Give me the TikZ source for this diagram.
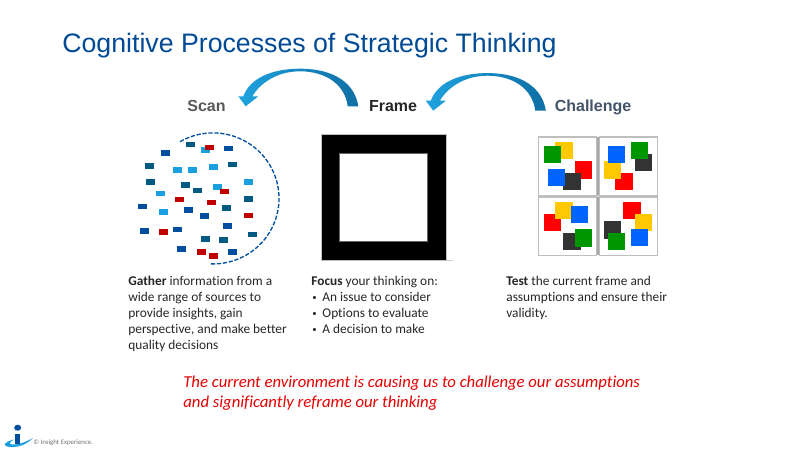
\documentclass[tikz,border=0pt]{standalone}
\usepackage{fontspec}
\setmainfont{Carlito}[Ligatures=NoCommon]
\newfontfamily\arialfont{Liberation Sans}
\usepackage{tikz}
\definecolor{titleblue}{HTML}{004A96}
\definecolor{dotteal}{HTML}{005A82}
\definecolor{dotblue}{HTML}{004F9F}
\definecolor{dotlight}{HTML}{1A9FE0}
\definecolor{dotred}{HTML}{C00000}
\definecolor{arrowdark}{HTML}{0E6FA5}
\definecolor{arrowlight}{HTML}{1FA2DE}
\definecolor{cardyellow}{HTML}{FFC800}
\definecolor{cardgreen}{HTML}{009600}
\definecolor{cardred}{HTML}{FF0000}
\definecolor{cardblue}{HTML}{0064FF}
\definecolor{carddark}{HTML}{333333}
\definecolor{cardedge}{HTML}{BFBFBF}
\definecolor{challengegrey}{HTML}{44546A}
\tikzset{
  headlabel/.style={anchor=base, font=\arialfont\bfseries\fontsize{9.1}{11}\selectfont},
  bodytext/.style={anchor=north west, align=left, inner sep=0pt, text=black!85, font=\fontsize{7.6}{9.1}\selectfont},
  cardcell/.style={fill=white, draw=cardedge, line width=0.6pt}
}
\newcommand{\bulletline}[1]{\makebox[6.3pt][l]{\hspace{0.6pt}\raisebox{0.7pt}{\fontsize{5}{5}\selectfont\textbullet}}#1}
\begin{document}
\begin{tikzpicture}[x=0.02cm, y=-0.02cm]
  \useasboundingbox[fill=white] (0,0) rectangle (800,450);

  \node[anchor=base west, inner sep=0pt, text=titleblue, font=\arialfont\fontsize{15.2}{18}\selectfont] (title) at (62,52.5) {Cognitive Processes of Strategic Thinking};

  \node[headlabel, text=black!65] (scan) at (206.5,111.5) {Scan};
  \node[headlabel, text=black!85] (frame) at (393,111.5) {Frame};
  \node[headlabel, text=challengegrey] (challenge) at (593,111.5) {Challenge};

  \foreach \dx/\dy in {0/0, 187.5/4.4}
    \shade[left color=arrowlight, right color=arrowdark, shift={(\dx,\dy)}]
      (358.3,106.3) .. controls (355,84) and (335,68.7) .. (300,68.7)
      .. controls (272,68.7) and (250,78) .. (243.3,96.3)
      -- (238.3,96.3) -- (245.7,106.3) -- (258.3,96.3) -- (252.3,96.3)
      .. controls (259,85) and (275,71.3) .. (300,71.3)
      .. controls (325,71.3) and (345,84) .. (347.7,106.3) -- cycle;

  \draw[dotblue, dash pattern=on 2.4pt off 1pt, line width=0.75pt] (180,141.7) arc[start angle=-120, end angle=93, x radius=66, y radius=65.5];
  \foreach \x/\y in {190.3/144.3, 149.3/165.7, 150.3/182, 185.3/184.7, 197.3/190.3, 232.3/164.3, 248.3/198.7, 226.7/207.7, 205.3/239, 223.3/240, 252.7/234.3}
    \fill[dotteal] (\x-4.5,\y-2.8) rectangle ++(9,5.6);
  \foreach \x/\y in {165.3/152.7, 228.3/148.3, 142.3/206.3, 188.3/209.7, 204.3/215.7, 227.3/225.7, 144.3/230.7, 177.3/229.3, 181/249, 232.3/251.7}
    \fill[dotblue] (\x-4.5,\y-2.8) rectangle ++(9,5.6);
  \foreach \x/\y in {205.3/149.7, 177.3/169.7, 192.3/169.7, 213.3/166.7, 217.3/186.7, 248.3/181.7, 160.3/193.3, 163.3/211.7}
    \fill[dotlight] (\x-4.5,\y-2.8) rectangle ++(9,5.6);
  \foreach \x/\y in {209.3/147.3, 224.3/191.3, 179/199.3, 211.3/202.3, 248/215.3, 163.3/231.7, 201.3/251.7, 213.3/255.7}
    \fill[dotred] (\x-4.5,\y-2.8) rectangle ++(9,5.6);

  \fill[black!20] (321,260) rectangle (453,261);
  \draw[fill=black, draw=black!25, line width=0.4pt] (321,134.7) rectangle (446,260);
  \draw[fill=white, draw=black!60, line width=0.4pt] (339.3,153.3) rectangle (427.3,241.7);

  \fill[black!35] (596.7,137) rectangle (599.3,255.3);
  \fill[black!20] (538.7,195.3) rectangle (657.3,197);
  \foreach \x/\y in {538.7/137, 599.3/137, 538.7/197, 599.3/197}
    \draw[cardcell] (\x,\y) rectangle ++(58,58.3);
  \foreach \x/\y/\c in {
      564/150.7/cardyellow, 552.3/154.3/cardgreen, 583.3/170/cardred, 571.8/181.7/carddark, 556.3/177.7/cardblue,
      624/181.7/cardred, 612.7/170/cardyellow, 616.3/154.3/cardblue, 643.7/162.3/carddark, 639.7/150.7/cardgreen,
      552.3/222.3/cardred, 564/210.7/cardyellow, 579.7/214.7/cardblue, 571.8/241.7/carddark, 583.3/238/cardgreen,
      632/210.7/cardred, 643.7/222.3/cardyellow, 639.7/237.7/cardblue, 612.7/230/carddark, 616.3/241.7/cardgreen}
    \fill[\c] (\x-8.7,\y-8.7) rectangle ++(17.4,17.4);

  \node[bodytext] (gather) at (128,276) {\textbf{Gather} information from a\\wide range of sources to\\provide insights, gain\\perspective, and make better\\quality decisions};
  \node[bodytext] (focus) at (311,276) {\textbf{Focus} your thinking on:\\\bulletline{An issue to consider}\\\bulletline{Options to evaluate}\\\bulletline{A decision to make}};
  \node[bodytext] (test) at (506,276) {\textbf{Test} the current frame and\\assumptions and ensure their\\validity.};

  \node[anchor=north west, align=left, inner sep=0pt, text=red!90!black, font=\itshape\fontsize{9.5}{11.4}\selectfont] (note) at (183,376) {The current environment is causing us to challenge our assumptions\\and significantly reframe our thinking};

  \fill[dotlight] (33,438) .. controls (26,445) and (18,447.5) .. (10,447)
    .. controls (4,446.5) and (3,444) .. (8,441.5)
    .. controls (10,440.5) and (12,440) .. (14,439.5)
    .. controls (10,442) and (8,444) .. (12,444.5)
    .. controls (18,445) and (26,442) .. (33,438) -- cycle;
  \fill[dotblue] (15.3,434) rectangle (20,443.5);
  \fill[dotblue] (17.7,427.7) ellipse[x radius=3.5, y radius=3];
  \node[anchor=base west, inner sep=0pt, text=black!55, font=\fontsize{3.9}{4.4}\selectfont] (credit) at (33,444.5) {© Insight Experience.};
\end{tikzpicture}
\end{document}
